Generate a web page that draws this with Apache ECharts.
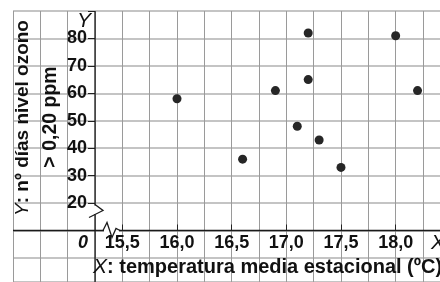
<!DOCTYPE html>
<html>
<head>
<meta charset="utf-8">
<script src="https://cdn.jsdelivr.net/npm/echarts@6/dist/echarts.min.js"></script>
<style>
  html, body { margin: 0; padding: 0; background: #fff; }
  #main { width: 440px; height: 282px; }
</style>
</head>
<body>
<div id="main"></div>
<script>
// datos: temperatura media estacional (ºC) y nº días con ozono > 0,20 ppm
var temperatura = [16.0, 16.6, 16.9, 17.2, 17.2, 17.1, 17.3, 17.5, 18.0, 18.2];
var diasOzono   = [58, 36, 61, 82, 65, 48, 43, 33, 81, 61];
var xTicks = [15.5, 16.0, 16.5, 17.0, 17.5, 18.0];
var yTicks = [20, 30, 40, 50, 60, 70, 80];

var puntos = temperatura.map(function (t, i) { return [t, diasOzono[i]]; });
var fuente = "Liberation Sans, Arial, sans-serif";

var chart = echarts.init(document.getElementById("main"));

var option = {
  animation: false,
  backgroundColor: "#fff",
  grid: [
    // papel cuadriculado (x en ºC, y en cuadros desde arriba)
    { left: 13, top: 11, right: 0, bottom: 0 },
    // ejes con datos
    { left: 67.67, top: 11, right: 0, bottom: 51.5 }
  ],
  xAxis: [
    {
      gridIndex: 0, type: "value", min: 14.5, max: 18.406, interval: 0.25,
      axisLine: { show: false }, axisTick: { show: false }, axisLabel: { show: false },
      splitLine: { show: true, lineStyle: { color: "#9a9a9a", width: 1 } }
    },
    {
      gridIndex: 1, type: "value", min: 15.0, max: 18.4055, interval: 0.5,
      axisLine: { show: false },
      axisTick: { show: true, inside: true, length: 6, lineStyle: { color: "#222" } },
      splitLine: { show: false },
      axisLabel: {
        margin: 4, fontSize: 18, fontWeight: "bold", color: "#111", fontFamily: fuente,
        showMinLabel: false, showMaxLabel: false,
        formatter: function (v) {
          return xTicks.indexOf(v) >= 0 ? v.toFixed(1).replace(".", ",") : "";
        }
      }
    }
  ],
  yAxis: [
    {
      gridIndex: 0, type: "value", inverse: true, min: 0, max: 9.876, interval: 1,
      axisLine: { show: false }, axisTick: { show: false }, axisLabel: { show: false },
      splitLine: { show: true, lineStyle: { color: "#b0b0b0", width: 1.5 } }
    },
    {
      gridIndex: 1, type: "value", min: 10, max: 90, interval: 10, offset: -27.33,
      axisLine: { show: false },
      axisTick: { show: true, length: 7, lineStyle: { color: "#222" } },
      splitLine: { show: false },
      axisLabel: {
        margin: 8, fontSize: 18, fontWeight: "bold", color: "#111", fontFamily: fuente,
        formatter: function (v) { return yTicks.indexOf(v) >= 0 ? String(v) : ""; }
      }
    }
  ],
  series: [
    {
      type: "scatter", xAxisIndex: 1, yAxisIndex: 1, data: puntos,
      symbolSize: 9, itemStyle: { color: "#262626", opacity: 1 }, z: 5
    }
  ]
};
chart.setOption(option);

// ejes, cortes de eje, nombres y rotulos
var o = chart.convertToPixel({ xAxisIndex: 1, yAxisIndex: 1 }, [15.25, 10]);
var ox = o[0], oy = o[1];
var negro = { stroke: "#1a1a1a", lineWidth: 1.3, fill: null };

chart.setOption({
  graphic: [
    { type: "line", shape: { x1: 13, y1: oy, x2: 440, y2: oy }, style: negro, z: 9 },
    { type: "line", shape: { x1: ox, y1: 11, x2: ox, y2: 282 }, style: negro, z: 9 },
    { type: "rect", shape: { x: ox - 3, y: oy - 25, width: 6, height: 9 }, style: { fill: "#fff" }, z: 10 },
    { type: "polyline", shape: { points: [[ox, oy - 26], [ox + 8, oy - 20], [ox - 6, oy - 13], [ox, oy - 16]] }, style: negro, z: 11 },
    { type: "rect", shape: { x: ox + 9, y: oy - 3, width: 15, height: 6 }, style: { fill: "#fff" }, z: 10 },
    { type: "polyline", shape: { points: [[ox + 8, oy], [ox + 12, oy - 8], [ox + 17, oy + 7], [ox + 21, oy - 2], [ox + 25, oy]] }, style: negro, z: 11 },
    { type: "text", x: ox - 11, y: 21, z: 12,
      style: { text: "Y", font: "italic 21px " + fuente, fill: "#111", align: "center", verticalAlign: "middle" } },
    { type: "text", x: 431, y: oy + 13, z: 12,
      style: { text: "X", font: "italic 21px " + fuente, fill: "#111", align: "left", verticalAlign: "middle" } },
    { type: "text", x: ox - 12, y: oy + 13, z: 12,
      style: { text: "0", font: "italic bold 18px " + fuente, fill: "#111", align: "center", verticalAlign: "middle" } },
    { type: "text", x: 93, y: 267, z: 12,
      style: {
        text: "{i|X}: temperatura media estacional (ºC)", font: "bold 20px " + fuente, fill: "#111",
        align: "left", verticalAlign: "middle",
        rich: { i: { font: "italic 21px " + fuente, fill: "#111" } }
      } },
    { type: "text", x: 23, y: 118, rotation: Math.PI / 2, z: 12,
      style: {
        text: "{i|Y}: nº días nivel ozono", font: "bold 19px " + fuente, fill: "#111",
        align: "center", verticalAlign: "middle",
        rich: { i: { font: "italic 19px " + fuente, fill: "#111" } }
      } },
    { type: "text", x: 51, y: 117, rotation: Math.PI / 2, z: 12,
      style: { text: "> 0,20 ppm", font: "bold 19.5px " + fuente, fill: "#111", align: "center", verticalAlign: "middle" } }
  ]
});
</script>
</body>
</html>
